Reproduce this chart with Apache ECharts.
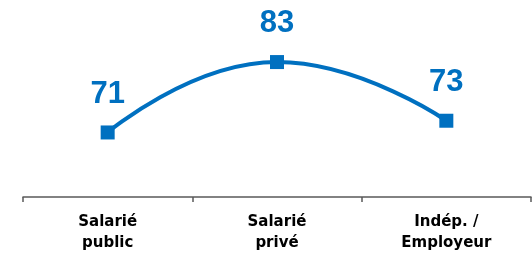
<!DOCTYPE html>
<html>
<head>
<meta charset="utf-8">
<script src="https://cdn.jsdelivr.net/npm/echarts@6/dist/echarts.min.js"></script>
<style>
  html, body { margin: 0; padding: 0; background: #fff; }
  #chart { width: 532px; height: 254px; }
</style>
</head>
<body>
<div id="chart"></div>
<script>
// données du graphique
var categories = ["Salarié\npublic", "Salarié\nprivé", "Indép. /\nEmployeur"];
var values = [71, 83, 73];

var chart = echarts.init(document.getElementById("chart"));
chart.setOption({
  animation: false,
  grid: { left: 23, right: 1, top: 21, bottom: 56 },
  xAxis: {
    type: "category",
    data: categories,
    boundaryGap: true,
    axisLine: { lineStyle: { color: "#595959", width: 1.5 } },
    axisTick: { show: true, length: 5, lineStyle: { color: "#595959", width: 1.5 } },
    axisLabel: {
      color: "#000",
      fontFamily: "DejaVu Sans",
      fontWeight: "bold",
      fontSize: 15,
      lineHeight: 21,
      margin: 15,
      interval: 0
    }
  },
  yAxis: {
    type: "value",
    min: 60,
    max: 90,
    show: false,
    splitLine: { show: false }
  },
  series: [
    {
      type: "line",
      data: values,
      smooth: true,
      symbol: "rect",
      symbolSize: 14,
      lineStyle: { color: "#0070C0", width: 4 },
      itemStyle: { color: "#0070C0" },
      label: {
        show: true,
        position: "top",
        distance: 16,
        color: "#0070C0",
        fontFamily: "Liberation Sans",
        fontWeight: "bold",
        fontSize: 31
      }
    }
  ]
});
</script>
</body>
</html>
